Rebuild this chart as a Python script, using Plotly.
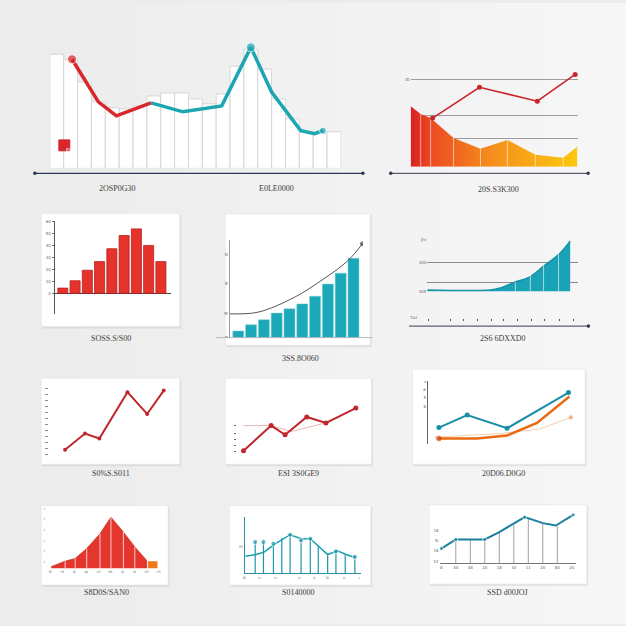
import plotly.graph_objects as go

W, H = 626, 626

# ---------------- data ----------------
# Panel 1: white columns + red/teal line
p1_cols = [115, 110, 87, 67, 61, 60, 63, 73, 76, 76, 70, 65, 75, 103, 120, 100, 70, 50, 37, 35, 37]
p1_red_x = [1.1, 3.0, 4.3, 6.8]
p1_red_y = [110, 67, 53, 66]
p1_teal_x = [6.8, 9.1, 11.9, 14.0, 15.5, 17.6, 18.6, 19.2]
p1_teal_y = [66, 57, 63, 122, 77, 38, 35, 38]
p1_captions = ["2OSP0G30", "E0LE0000"]

# Panel 2: gradient area + red line
p2_area_x = [0, 10, 20, 43, 70, 97, 125, 153, 167]
p2_area_y = [61, 53, 49, 29, 18, 27, 12, 9, 20]
p2_line_x = [22, 69, 127, 165]
p2_line_y = [49, 80, 66, 93]
p2_grid = [28, 52, 88]
p2_grid_labels = ["", "", "ID"]
p2_caption = "20S.S3K300"

# Panel 3: red histogram
p3_vals = [5.3, 12.7, 23.3, 32, 45, 58.3, 65, 48.3, 32]
p3_ticks = [0, 12, 24, 36, 48, 60, 72]
p3_tick_labels = ["0", "10", "20", "30", "40", "50", "60"]
p3_caption = "SOSS.S/S00"

# Panel 4: teal bars + curve
p4_vals = [6.7, 13, 18, 24.7, 29, 34, 41.7, 54, 65, 80]
p4_curve_x = [-0.68, 1.53, 4.38, 6.46, 8.54, 9.7]
p4_curve_y = [24, 25.6, 40.6, 57.3, 77.3, 94.6]
p4_ticks = [1, 24, 54, 84]
p4_tick_labels = ["e", "M", "B", "N"]
p4_caption = "3SS.8O060"

# Panel 5: teal area
p5_x = [0, 6.3, 7.3, 8.7, 10.3, 11.7, 13.2, 14.33]
p5_y = [1.5, 1.5, 3.4, 9, 14.7, 25.7, 37.4, 50.7]
p5_grid = [0, 9, 29, 52.4]
p5_grid_labels = ["305", "", "300", "Jhr"]
p5_seps = [8.83, 10.33, 11.66, 13.16]
p5_sep_y = [9.5, 17, 27.5, 38.5]
p5_xticks = [0.16, 2.33, 3.66, 5.0, 6.43, 7.66, 9.0, 10.43, 11.76, 13.26, 14.66]
p5_caption = "2S6 6DXXD0"

# Panel 6: red line
p6_x = [0, 1, 1.72, 3.13, 4.12, 4.95]
p6_y = [9.7, 26, 21, 67.7, 45.7, 69.3]
p6_ticks = [5, 11, 17, 23, 29, 35, 41, 47, 53, 59, 65, 71]
p6_caption = "S0%S.S011"

# Panel 7: red line with pale reference
p7_x = [0, 1.385, 2.085, 3.17, 4.135, 5.635]
p7_y = [8.7, 34, 24.7, 42.7, 36.7, 51.7]
p7_ref_x = [0, 1.385, 2.385, 4.135]
p7_ref_y = [34, 34, 28, 36.7]
p7_caption = "ESI 3S0GE9"

# Panel 8: teal + orange + faint lines
p8_teal_x = [1.1, 3.94, 7.94, 14.1]
p8_teal_y = [17, 29.7, 16.3, 52.3]
p8_orange_x = [1.1, 4.94, 7.94, 10.94, 14.2]
p8_orange_y = [6, 6, 9, 21.7, 48.3]
p8_faint_x = [0.6, 7.27, 11.27, 14.34]
p8_faint_y = [7.3, 11, 15.7, 27.3]
p8_ticks = [38, 47, 55, 63]
p8_tick_labels = ["8", "5", "#", "s"]
p8_caption = "20D06.D0G0"

# Panel 9: red bell area + orange block
p9_x = [0.08, 1.24, 2.07, 3.03, 4.13, 5.04, 6.07, 7.02, 7.99]
p9_y = [1.7, 7.3, 10, 20, 35, 51.7, 36.7, 21.7, 8.3]
p9_block_x = [8.5]
p9_block_y = [7.3]
p9_xlabels = ["ɪɪ", "ıл", "ŭ", "ш", "ıл", "ɪʌ", "ŭ", "ıɪ", "ɪл", "ıл"]
p9_ticks = [6.7, 17.7, 28.3, 39, 50, 60]
p9_caption = "S8D0S/SAN0"

# Panel 10: teal line with stems
p10_stem_x = [1.07, 1.9, 2.9, 3.74, 4.57, 5.67, 6.6, 7.4, 8.34, 9.17, 10.1, 11.07]
p10_stem_y = [31.7, 31.7, 30, 35.7, 39, 33.3, 35, 27.3, 18.3, 22.3, 18.3, 16.7]
p10_stem_dot = [1, 1, 1, 0, 1, 1, 1, 0, 0, 1, 0, 1]
p10_line_x = [0.1, 1.17, 2.0, 3.0, 4.57, 5.67, 6.6, 7.4, 8.34, 9.34, 10.17, 11.07]
p10_line_y = [17.3, 19, 21.7, 29.3, 39, 35, 35, 27.3, 19, 22.7, 19, 16]
p10_xticks = [0, 1.5, 3.1, 5.5, 7.0, 8.3, 10.0, 11.5]
p10_xlabels = ["ɪL", "ıı", "ıı", "ıı", "ıı", "ɪɪ", "ıı", "ı"]
p10_caption = "S0140000"

# Panel 11: teal line with gray stems
p11_x = [0, 1, 2, 3, 4, 5, 5.75, 7, 7.9, 9.1]
p11_y = [15, 24.3, 24.3, 24.3, 31.7, 40, 46.7, 40.7, 38.3, 49]
p11_dot = [1, 1, 0, 1, 0, 0, 1, 0, 0, 1]
p11_stem_x = [1, 2, 3, 4, 5, 6, 7, 8]
p11_stem_y = [24.3, 24.3, 24.3, 31.7, 40, 45.5, 40.7, 38]
p11_xlabels = ["8", "40", "48", "20", "18", "30", "11", "20", "80", "20"]
p11_yticks = [1.7, 12.7, 23.3, 33.3]
p11_ylabels = ["1X", "16", "5ı", "18"]
p11_caption = "SSD d00JOJ"

# ---------------- helpers ----------------
fig = go.Figure()
axes = {}
shapes = []
annos = []


def px(x):
    return x / W


def py(y):
    return 1 - y / H


def panel(n, x0, x1, y0, y1, xr, yr, xa=None, ya=None):
    sfx = "" if n == 1 else str(n)
    base = dict(showgrid=False, zeroline=False, showline=False, showticklabels=False,
                ticks="", fixedrange=True)
    xd = dict(base, domain=[px(x0), px(x1)], range=xr, anchor="y" + sfx)
    yd = dict(base, domain=[py(y1), py(y0)], range=yr, anchor="x" + sfx)
    if xa:
        xd.update(xa)
    if ya:
        yd.update(ya)
    axes["xaxis" + sfx] = xd
    axes["yaxis" + sfx] = yd
    return "x" + sfx, "y" + sfx


def card(x0, y0, x1, y1):
    shapes.append(dict(type="rect", xref="paper", yref="paper", layer="below",
                       x0=px(x0 + 1), x1=px(x1 + 1.5), y0=py(y1 + 2), y1=py(y0 + 1),
                       fillcolor="rgba(0,0,0,0.07)", line=dict(width=0)))
    shapes.append(dict(type="rect", xref="paper", yref="paper", layer="below",
                       x0=px(x0), x1=px(x1), y0=py(y1), y1=py(y0),
                       fillcolor="white", line=dict(color="#e4e4e4", width=0.6)))


def hline(x0, x1, y, color, width=1.0, dots=(True, True)):
    shapes.append(dict(type="line", xref="paper", yref="paper", layer="above",
                       x0=px(x0), x1=px(x1), y0=py(y), y1=py(y),
                       line=dict(color=color, width=width)))
    r = 1.8
    for on, xx in zip(dots, (x0, x1)):
        if on:
            shapes.append(dict(type="circle", xref="paper", yref="paper", layer="above",
                               x0=px(xx - r), x1=px(xx + r), y0=py(y + r), y1=py(y - r),
                               fillcolor=color, line=dict(width=0)))


def caption(text, x, y):
    annos.append(dict(text=text, x=px(x), y=py(y), xref="paper", yref="paper",
                      showarrow=False, xanchor="center", yanchor="middle",
                      font=dict(family="Liberation Serif", size=8, color="#3c3c3c")))


def stems(xs, ys):
    sx, sy = [], []
    for a, b in zip(xs, ys):
        sx += [a, a, None]
        sy += [0, b, None]
    return sx, sy


# ---------------- background ----------------
N = 24
for i in range(N):
    c = int(236 + (247 - 236) * i / (N - 1))
    shapes.append(dict(type="rect", xref="paper", yref="paper", layer="below",
                       x0=i / N, x1=(i + 1) / N + 0.002, y0=0, y1=1,
                       fillcolor=f"rgb({c},{c},{c})", line=dict(width=0)))

tiny = dict(family="DejaVu Sans", size=4, color="#666")

# ---------------- panel 1 ----------------
xa, ya = panel(1, 48, 340, 36.7, 166.7, [-0.5, 20.5], [0, 130])
fig.add_trace(go.Bar(x=list(range(len(p1_cols))), y=p1_cols, width=1.0, xaxis=xa, yaxis=ya,
                     marker=dict(color="white", line=dict(color="#d6d6d6", width=1))))
fig.add_trace(go.Scatter(x=p1_red_x, y=p1_red_y, mode="lines+markers", xaxis=xa, yaxis=ya,
                         line=dict(color="#d8262b", width=3.5),
                         marker=dict(size=[9, 0, 0, 0], color="#d8262b")))
fig.add_trace(go.Scatter(x=p1_teal_x, y=p1_teal_y, mode="lines+markers", xaxis=xa, yaxis=ya,
                         line=dict(color="#1ba6b2", width=3.5),
                         marker=dict(size=[0, 0, 0, 9, 0, 0, 0, 7], color="#1ba6b2")))
hline(33, 362, 171.7, "#2d3a55", 1.2)
shapes.append(dict(type="rect", xref="paper", yref="paper", layer="above",
                   x0=px(57), x1=px(68), y0=py(149), y1=py(138),
                   fillcolor="#d8262b", line=dict(color="#d8262b", width=1)))
annos.append(dict(text="EB", x=px(62.5), y=py(143.5), xref="paper", yref="paper", showarrow=False,
                  font=dict(family="DejaVu Sans", size=5, color="white")))
caption(p1_captions[0], 115, 186.7)
caption(p1_captions[1], 275, 186.7)

# ---------------- panel 2 ----------------
xa, ya = panel(2, 410, 578, 65, 165, [0, 168], [0, 100],
               ya=dict(showgrid=True, gridcolor="#9c9c9c", gridwidth=1, tickvals=p2_grid,
                       ticktext=p2_grid_labels, showticklabels=True, tickfont=tiny))
fig.add_trace(go.Scatter(x=p2_area_x, y=p2_area_y, mode="lines", fill="tozeroy", xaxis=xa, yaxis=ya,
                         line=dict(width=0, color="#f28c1e"),
                         fillgradient=dict(type="horizontal",
                                           colorscale=[[0, "#d91f20"], [0.12, "#ec4a22"],
                                                       [0.5, "#f5901d"], [1, "#fcc80d"]])))
sx, sy = stems(p2_area_x[1:-1], p2_area_y[1:-1])
fig.add_trace(go.Scatter(x=sx, y=sy, mode="lines", xaxis=xa, yaxis=ya,
                         line=dict(color="rgba(255,255,255,0.55)", width=1)))
fig.add_trace(go.Scatter(x=p2_line_x, y=p2_line_y, mode="lines+markers", xaxis=xa, yaxis=ya,
                         line=dict(color="#c8262a", width=1.6),
                         marker=dict(size=5, color="#c8262a")))
hline(390, 588, 171.7, "#333c4f", 1.0)
caption(p2_caption, 498, 187.7)

# ---------------- panel 3 ----------------
card(39.3, 212.3, 178.3, 326)
xa, ya = panel(3, 52.7, 170, 220, 313, [-0.675, 8.86], [-20.3, 72.7],
               ya=dict(showline=True, linecolor="#555", linewidth=1, zeroline=True,
                       zerolinecolor="#444", zerolinewidth=1, tickvals=p3_ticks,
                       ticktext=p3_tick_labels, ticks="outside", ticklen=2,
                       tickcolor="#777", showticklabels=True, tickfont=tiny))
fig.add_trace(go.Bar(x=list(range(len(p3_vals))), y=p3_vals, width=0.82, xaxis=xa, yaxis=ya,
                     marker=dict(color="#e5322b", line=dict(color="#b81f1f", width=0.8))))
caption(p3_caption, 109, 337.7)

# ---------------- panel 4 ----------------
card(224, 212.7, 369.3, 345)
xa, ya = panel(4, 228.3, 362, 239.3, 337.3, [-0.68, 9.73], [0, 98],
               ya=dict(showline=True, linecolor="#9a9a9a", linewidth=1, tickvals=p4_ticks,
                       ticktext=p4_tick_labels, showticklabels=True, tickfont=tiny))
fig.add_trace(go.Bar(x=list(range(len(p4_vals))), y=p4_vals, width=0.86, xaxis=xa, yaxis=ya,
                     marker=dict(color="#1ba8b8", line=dict(color="#7fd0d8", width=0.5))))
fig.add_trace(go.Scatter(x=p4_curve_x, y=p4_curve_y, mode="lines+markers", line_shape="spline",
                         xaxis=xa, yaxis=ya, line=dict(color="#555", width=1),
                         marker=dict(size=[0, 0, 0, 0, 0, 4], color="#222")))
hline(215, 371.7, 337.3, "#a8a8a8", 0.8, dots=(False, False))
caption(p4_caption, 299, 358.3)

# ---------------- panel 5 ----------------
xa, ya = panel(5, 426.7, 578.3, 237.7, 290.7, [0, 15.16], [0, 53],
               xa=dict(anchor="free", position=py(317.3), tickvals=p5_xticks, ticks="outside",
                       ticklen=2, tickcolor="#555", tickwidth=1),
               ya=dict(showgrid=True, gridcolor="#8a8a8a", gridwidth=1, tickvals=p5_grid,
                       ticktext=p5_grid_labels, showticklabels=True, tickfont=tiny))
fig.add_trace(go.Scatter(x=p5_x, y=p5_y, mode="lines", fill="tozeroy", line_shape="spline",
                         xaxis=xa, yaxis=ya, line=dict(color="#1890a6", width=1.5),
                         fillcolor="#1aa3b7"))
sx, sy = stems(p5_seps, p5_sep_y)
fig.add_trace(go.Scatter(x=sx, y=sy, mode="lines", xaxis=xa, yaxis=ya,
                         line=dict(color="rgba(255,255,255,0.6)", width=1)))
annos.append(dict(text="7xz", x=px(418), y=py(317), xref="paper", yref="paper", showarrow=False,
                  font=tiny))
hline(408.3, 588.3, 325.7, "#333c4f", 1.0, dots=(False, True))
caption(p5_caption, 503, 337.7)

# ---------------- panel 6 ----------------
card(39.3, 378.3, 178.3, 465)
xa, ya = panel(6, 46.7, 170, 385, 460, [-0.83, 5.34], [0, 75],
               ya=dict(tickvals=p6_ticks, ticks="outside", ticklen=3, tickcolor="#8a8a8a"))
fig.add_trace(go.Scatter(x=p6_x, y=p6_y, mode="lines+markers", xaxis=xa, yaxis=ya,
                         line=dict(color="#c0272d", width=2), marker=dict(size=4, color="#c0272d")))
caption(p6_caption, 109, 474)

# ---------------- panel 7 ----------------
card(224, 378.3, 370.7, 465)
xa, ya = panel(7, 236, 362, 400, 460, [-0.315, 5.985], [0, 60],
               ya=dict(tickvals=[8, 14, 20, 26, 34], ticks="outside", ticklen=2,
                       tickcolor="#666"))
fig.add_trace(go.Scatter(x=p7_ref_x, y=p7_ref_y, mode="lines", xaxis=xa, yaxis=ya,
                         line=dict(color="#e8b4b4", width=1)))
fig.add_trace(go.Scatter(x=p7_x, y=p7_y, mode="lines+markers", xaxis=xa, yaxis=ya,
                         line=dict(color="#c0272d", width=2), marker=dict(size=5, color="#c0272d")))
caption(p7_caption, 297, 474)

# ---------------- panel 8 ----------------
card(411.7, 369.3, 585, 465)
xa, ya = panel(8, 427.3, 575, 380.7, 445, [0, 14.77], [0, 64.3],
               ya=dict(showline=True, linecolor="#666", linewidth=1, tickvals=p8_ticks,
                       ticktext=p8_tick_labels, showticklabels=True, tickfont=tiny))
fig.add_trace(go.Scatter(x=p8_faint_x, y=p8_faint_y, mode="lines+markers", xaxis=xa, yaxis=ya,
                         line=dict(color="#f3cfb2", width=1),
                         marker=dict(size=[0, 0, 0, 4], color="#ef8a4c")))
fig.add_trace(go.Scatter(x=p8_orange_x, y=p8_orange_y, mode="lines+markers", xaxis=xa, yaxis=ya,
                         line=dict(color="#ea6a12", width=2.5),
                         marker=dict(size=[5, 0, 0, 0, 0], color="#c8331a")))
fig.add_trace(go.Scatter(x=p8_teal_x, y=p8_teal_y, mode="lines+markers", xaxis=xa, yaxis=ya,
                         line=dict(color="#1a8ea8", width=2), marker=dict(size=5, color="#1a8ea8")))
caption(p8_caption, 503, 474.3)

# ---------------- panel 9 ----------------
card(39.3, 506.7, 166.7, 586.7)
xa, ya = panel(9, 44, 162, 510, 570, [-0.36, 9.4], [0, 60],
               xa=dict(tickvals=list(range(10)), ticktext=p9_xlabels, showticklabels=True,
                       tickfont=tiny),
               ya=dict(tickvals=p9_ticks, ticktext=["ı"] * len(p9_ticks), showticklabels=True,
                       tickfont=tiny))
fig.add_trace(go.Scatter(x=p9_x, y=p9_y, mode="lines", fill="tozeroy", xaxis=xa, yaxis=ya,
                         line=dict(color="#d42a23", width=0.8), fillcolor="#e3362c"))
sx, sy = stems(p9_x[1:-1], p9_y[1:-1])
fig.add_trace(go.Scatter(x=sx, y=sy, mode="lines", xaxis=xa, yaxis=ya,
                         line=dict(color="rgba(255,255,255,0.75)", width=1)))
fig.add_trace(go.Scatter(x=[p9_x[-1], p9_x[-1]], y=[0, p9_y[-1]], mode="lines", xaxis=xa, yaxis=ya,
                         line=dict(color="#d42a23", width=0.8)))
fig.add_trace(go.Bar(x=p9_block_x, y=p9_block_y, width=0.8, xaxis=xa, yaxis=ya,
                     marker=dict(color="#f07a1a", line=dict(width=0))))
caption(p9_caption, 105, 594)

# ---------------- panel 10 ----------------
card(228.3, 506.7, 370, 586.7)
xa, ya = panel(10, 243.3, 360, 518.3, 575, [0, 11.67], [0, 56.7],
               xa=dict(showline=True, linecolor="#2a8f9f", linewidth=1, tickvals=p10_xticks,
                       ticktext=p10_xlabels, showticklabels=True, tickfont=tiny),
               ya=dict(showline=True, linecolor="#2a8f9f", linewidth=1, tickvals=[27],
                       ticktext=["ih"], showticklabels=True, tickfont=tiny))
sx, sy = stems(p10_stem_x, p10_stem_y)
fig.add_trace(go.Scatter(x=sx, y=sy, mode="lines", xaxis=xa, yaxis=ya,
                         line=dict(color="#1a98a8", width=1.2)))
fig.add_trace(go.Scatter(x=p10_line_x, y=p10_line_y, mode="lines", xaxis=xa, yaxis=ya,
                         line=dict(color="#1a9fae", width=1.5)))
fig.add_trace(go.Scatter(x=p10_stem_x, y=p10_stem_y, mode="markers", xaxis=xa, yaxis=ya,
                         marker=dict(size=[5 * d for d in p10_stem_dot], color="#1a98a8")))
caption(p10_caption, 297, 594)

# ---------------- panel 11 ----------------
card(428.3, 505.7, 586.7, 585.7)
xa, ya = panel(11, 439, 576, 514, 565, [-0.117, 9.3], [0, 51],
               xa=dict(showline=True, linecolor="#777", linewidth=1, tickvals=list(range(10)),
                       ticktext=p11_xlabels, showticklabels=True, tickfont=tiny),
               ya=dict(tickvals=p11_yticks, ticktext=p11_ylabels, showticklabels=True,
                       tickfont=tiny))
sx, sy = stems(p11_stem_x, p11_stem_y)
fig.add_trace(go.Scatter(x=sx, y=sy, mode="lines", xaxis=xa, yaxis=ya,
                         line=dict(color="#a0a0a0", width=1)))
fig.add_trace(go.Scatter(x=p11_x, y=p11_y, mode="lines+markers", xaxis=xa, yaxis=ya,
                         line=dict(color="#1a7fa0", width=2),
                         marker=dict(size=[4 * d for d in p11_dot], color="#1a7fa0")))
caption(p11_caption, 507, 594.3)

fig.update_layout(width=W, height=H, autosize=False, showlegend=False,
                  margin=dict(l=0, r=0, t=0, b=0, pad=0),
                  paper_bgcolor="#ececec", plot_bgcolor="rgba(0,0,0,0)",
                  barmode="overlay", hovermode=False,
                  shapes=shapes, annotations=annos, **axes)

fig.write_html("out.html", config={"displayModeBar": False, "staticPlot": True},
               post_script="document.body.style.margin='0';document.body.style.overflow='hidden';")
